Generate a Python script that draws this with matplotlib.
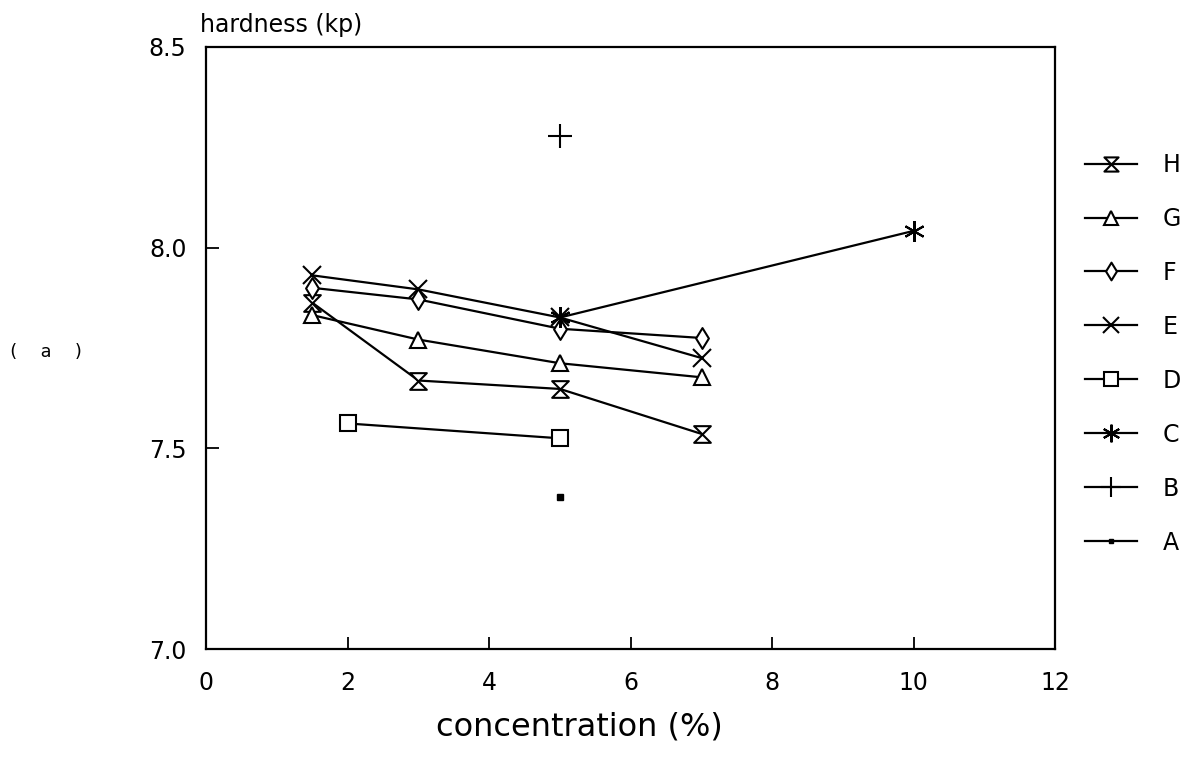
import matplotlib
matplotlib.use('Agg')
import matplotlib.pyplot as plt
from matplotlib.path import Path

# hardness (kp) vs concentration (%), series H..A
conc = [1.5, 3, 5, 7]
H = [7.863, 7.669, 7.648, 7.536]
G = [7.832, 7.771, 7.712, 7.677]
F = [7.900, 7.871, 7.798, 7.775]
E = [7.931, 7.896, 7.826, 7.725]
D_x = [2, 5]
D = [7.562, 7.525]
C_x = [5, 10]
C = [7.826, 8.042]
B_x = [5]
B = [8.278]
A_x = [5]
A = [7.378]

xticks = [0, 2, 4, 6, 8, 10, 12]
yticks = [7.0, 7.5, 8.0, 8.5]

# hourglass marker for H
hourglass = Path([(-1, 1), (1, 1), (-1, -1), (1, -1), (-1, 1)],
                 [Path.MOVETO, Path.LINETO, Path.LINETO, Path.LINETO, Path.CLOSEPOLY])
# diamond a bit taller than wide for F
diamond = Path([(0, 1.3), (0.8, 0), (0, -1.3), (-0.8, 0), (0, 1.3)],
               [Path.MOVETO, Path.LINETO, Path.LINETO, Path.LINETO, Path.CLOSEPOLY])

plt.rcParams['font.family'] = ['DejaVu Sans']

fig = plt.figure(figsize=(11.98, 7.64), dpi=100)
ax = fig.add_axes([0.172, 0.1505, 0.709, 0.788])

style = dict(color='black', lw=1.6, mew=1.5, mfc='white', mec='black')

ax.plot(conc, H, marker=hourglass, ms=12, label='H', **style)
ax.plot(conc, G, marker='^', ms=12, label='G', **style)
ax.plot(conc, F, marker=diamond, ms=15, label='F', **style)
ax.plot(conc, E, marker='x', ms=13, label='E', **style)
ax.plot(D_x, D, marker='s', ms=12, label='D', **style)
ax.plot(C_x, C, marker=(6, 2, 0), ms=15, label='C', **style)
ax.plot(B_x, B, marker='+', ms=17, label='B', **style)
ax.plot(A_x, A, marker='s', ms=4, color='black', lw=1.6, label='A')

ax.set_xlim(0, 12)
ax.set_ylim(7.0, 8.5)
ax.set_xticks(xticks)
ax.set_yticks(yticks)
ax.set_yticklabels(['%.1f' % v for v in yticks])
ax.tick_params(direction='in', length=9, width=1.3, labelsize=17, pad=14)
ax.tick_params(axis='x', pad=16)
for s in ax.spines.values():
    s.set_linewidth(1.6)

ax.set_xlabel('concentration (%)', fontsize=23, x=0.44, labelpad=12)
fig.text(200 / 1198, 1 - 32 / 764, 'hardness (kp)', fontsize=17, ha='left', va='baseline')
fig.text(8 / 1198, 1 - 352 / 764, '(  a  )', fontsize=13, family='DejaVu Sans Mono', va='center')

handles, labels = ax.get_legend_handles_labels()
ax.legend(handles, labels, loc='center left', bbox_to_anchor=(1085 / 1198, 0.537),
          bbox_transform=fig.transFigure, frameon=False, fontsize=17,
          handlelength=2.2, handletextpad=1.1, labelspacing=1.27,
          borderpad=0, borderaxespad=0, numpoints=1, markerscale=0.85)

fig.savefig('out.png', dpi=100)
